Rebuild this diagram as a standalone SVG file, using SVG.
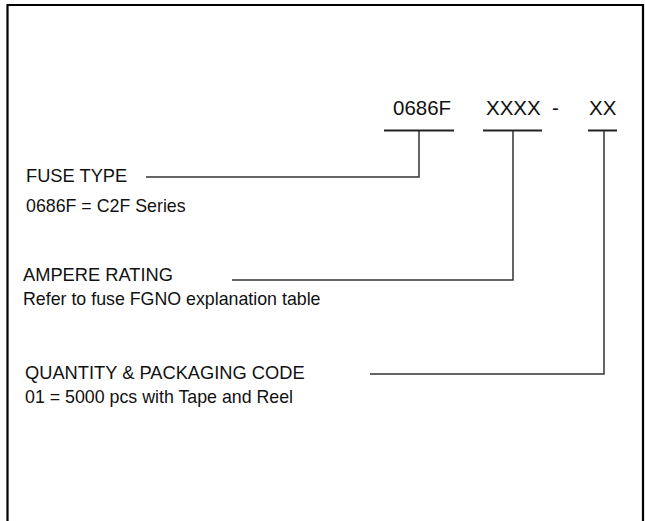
<svg xmlns="http://www.w3.org/2000/svg" width="645" height="521" viewBox="0 0 645 521">
<style>
.t{font-family:"Liberation Sans",Arial,Helvetica,sans-serif;fill:#111}
.h{font-size:18.3px}
.d{font-size:17.8px}
.c{font-size:20.5px}
.ln{fill:none;stroke:#333;stroke-width:1.5}
.ul{fill:none;stroke:#222;stroke-width:2}
</style>
<rect x="0" y="0" width="645" height="521" fill="#fff"/>
<path d="M7.5,522 V5 H643 V522" fill="none" stroke="#000" stroke-width="2.2"/>
<g id="code">
<text class="t c" x="393" y="115">0686F</text>
<text class="t c" x="486" y="115">XXXX</text>
<text class="t c" x="552" y="115">-</text>
<text class="t c" x="589" y="115">XX</text>
<path class="ul" d="M384,130.5 H454 M483,130.5 H542 M588,130.5 H617"/>
</g>
<g id="fuse-type">
<text class="t h" x="26" y="182">FUSE TYPE</text>
<text class="t d" x="26" y="212">0686F = C2F Series</text>
</g>
<g id="ampere-rating">
<text class="t h" x="23" y="281">AMPERE RATING</text>
<text class="t d" x="23" y="305">Refer to fuse FGNO explanation table</text>
</g>
<g id="quantity">
<text class="t h" x="25" y="379">QUANTITY &amp; PACKAGING CODE</text>
<text class="t d" x="25" y="403">01 = 5000 pcs with Tape and Reel</text>
</g>
<g id="connectors">
<path class="ln" d="M419,131 V177 H146"/>
<path class="ln" d="M513,131 V280 H232"/>
<path class="ln" d="M604,131 V374 H370"/>
</g>
</svg>
